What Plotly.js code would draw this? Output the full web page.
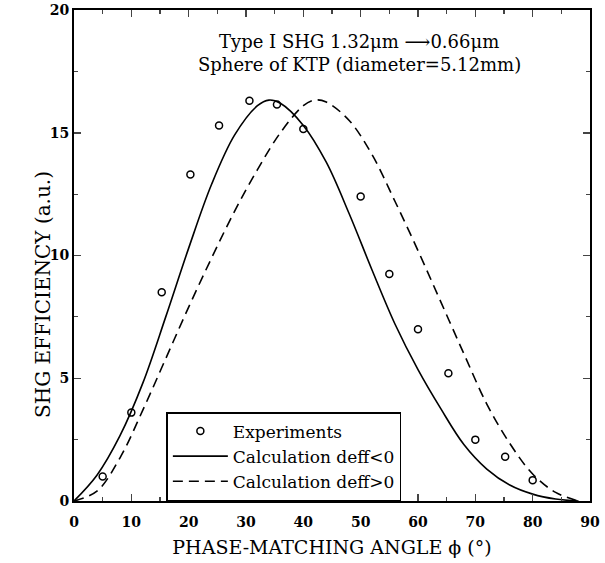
<!DOCTYPE html>
<html>
<head>
<meta charset="utf-8">
<script src="https://cdn.plot.ly/plotly-3.0.1.min.js"></script>
<style>html,body{margin:0;padding:0;background:#fff;}#chart{width:605px;height:563px;}</style>
</head>
<body>
<div id="chart"></div>
<script>
// Experimental points (angle in degrees, SHG efficiency a.u.)
const expAngle = [5, 10, 15.3, 20.3, 25.3, 30.6, 35.4, 40, 50, 55, 60, 65.3, 70, 75.2, 80];
const expEff   = [1.0, 3.6, 8.5, 13.3, 15.3, 16.3, 16.15, 15.15, 12.4, 9.25, 7.0, 5.2, 2.5, 1.8, 0.85];

// Calculation deff<0 (solid curve)
const negAngle = [0, 4, 8, 12, 16, 20, 24, 28, 32, 34, 36, 40, 44, 48, 52, 56, 60, 64, 68, 72, 76, 80, 84, 88];
const negEff   = [0, 1.05, 2.65, 4.8, 7.5, 10.3, 12.9, 14.9, 16.1, 16.33, 16.2, 15.3, 13.8, 11.7, 9.4, 7.2, 5.35, 3.75, 2.3, 1.3, 0.65, 0.28, 0.08, 0];

// Calculation deff>0 (dashed curve)
const posAngle = [0, 4, 8, 12, 16, 20, 24, 28, 32, 36, 40, 42, 44, 48, 52, 56, 60, 64, 68, 72, 76, 80, 84, 88];
const posEff   = [0, 0.4, 1.75, 3.7, 5.8, 7.9, 9.9, 11.8, 13.5, 15.0, 16.1, 16.33, 16.25, 15.5, 14.1, 12.2, 10.2, 8.1, 6.0, 3.95, 2.35, 1.1, 0.35, 0];

const xTicks = [0, 10, 20, 30, 40, 50, 60, 70, 80, 90];
const yTicks = [0, 5, 10, 15, 20];

const serif = "DejaVu Serif, Liberation Serif, serif";

const traces = [
  {x: expAngle, y: expEff, mode: 'markers', name: 'Experiments',
   marker: {symbol: 'circle-open', size: 7, color: '#000', line: {width: 1.5, color: '#000'}}},
  {x: negAngle, y: negEff, mode: 'lines', name: 'Calculation deff<0', line: {color: '#000', width: 1.6, shape: 'spline', smoothing: 1}},
  {x: posAngle, y: posEff, mode: 'lines', name: 'Calculation deff>0', line: {color: '#000', width: 1.6, dash: '10px,6px', shape: 'spline', smoothing: 1}}
];

const layout = {
  width: 605, height: 563,
  margin: {l: 74, r: 15, t: 10, b: 62},
  paper_bgcolor: '#fff', plot_bgcolor: '#fff',
  font: {family: serif, color: '#000'},
  showlegend: true,
  legend: {x: 0.179, y: 0, xanchor: 'left', yanchor: 'bottom', bordercolor: '#000', borderwidth: 1.5,
           bgcolor: '#fff', font: {family: serif, size: 17, color: '#000'}, tracegroupgap: 0, itemwidth: 55},
  xaxis: {range: [0, 90], tickvals: xTicks, ticktext: xTicks.map(String), ticks: 'inside', ticklen: 7, tickwidth: 1.5,
          showline: true, linecolor: '#000', linewidth: 2, mirror: 'ticks', showgrid: false, zeroline: false,
          ticklabelstandoff: 7,
          minor: {dtick: 5, ticks: 'inside', ticklen: 4, tickwidth: 1.2, showgrid: false},
          tickfont: {family: serif, size: 14, color: '#000', weight: 'bold'},
          title: {text: 'PHASE-MATCHING ANGLE ϕ (°)', font: {family: serif, size: 19, color: '#000'}, standoff: 12}},
  yaxis: {range: [0, 20], tickvals: yTicks, ticktext: yTicks.map(String), ticks: 'inside', ticklen: 7, tickwidth: 1.5,
          showline: true, linecolor: '#000', linewidth: 2, mirror: 'ticks', showgrid: false, zeroline: false,
          minor: {dtick: 2.5, ticks: 'inside', ticklen: 4, tickwidth: 1.2, showgrid: false},
          tickfont: {family: serif, size: 14, color: '#000', weight: 'bold'}},
  annotations: [
    {text: 'Type I SHG 1.32μm ⟶0.66μm', x: 0.553, y: 0.962, xref: 'paper', yref: 'paper', showarrow: false,
     font: {family: serif, size: 18, color: '#000'}},
    {text: 'Sphere of KTP (diameter=5.12mm)', x: 0.553, y: 0.915, xref: 'paper', yref: 'paper', showarrow: false,
     font: {family: serif, size: 18, color: '#000'}},
    {text: 'SHG EFFICIENCY (a.u.)', x: 0, y: 0, xref: 'paper', yref: 'paper', showarrow: false, textangle: -90,
     font: {family: serif, size: 20, color: '#000'}}
  ]
};
// y-axis title placed in pixel terms converted to paper coordinates
const pw = 605 - 74 - 15, ph = 563 - 10 - 62;
layout.annotations[2].x = (29 - 74) / pw;
layout.annotations[2].y = (563 - 62 - 295) / ph;

Plotly.newPlot('chart', traces, layout, {displayModeBar: false, staticPlot: true});
</script>
</body>
</html>
